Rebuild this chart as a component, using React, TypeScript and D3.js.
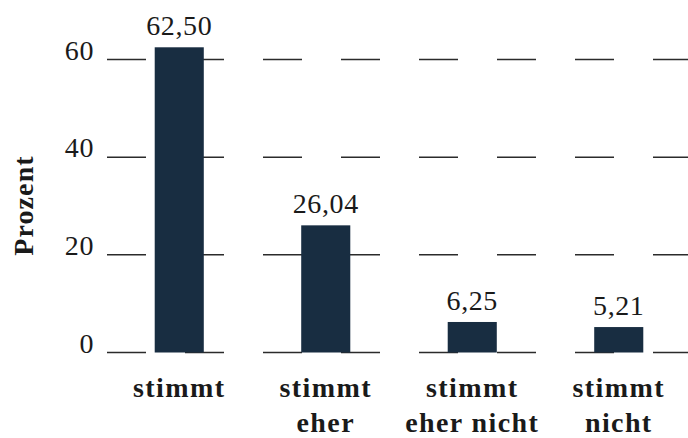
import React from 'react';
import * as d3 from 'd3';

const categories = ['stimmt', 'stimmt eher', 'stimmt eher nicht', 'stimmt nicht'];
const categoryLines = [['stimmt'], ['stimmt', 'eher'], ['stimmt', 'eher nicht'], ['stimmt', 'nicht']];
const values = [62.5, 26.04, 6.25, 5.21];
const yTicks = [0, 20, 40, 60];

const FONT = 'Liberation Serif';
const width = 688;
const height = 438;

const App = () => {
  const xScale = d3
    .scaleBand()
    .domain(categories)
    .range([106, 692])
    .paddingInner(0.665)
    .paddingOuter(0.3325);

  const yScale = d3.scaleLinear().domain([0, 60]).range([352.5, 59.5]);
  const center = (i: number) => (xScale(categories[i]) as number) + xScale.bandwidth() / 2;

  return (
    <svg
      width={width}
      height={height}
      style={{ position: 'absolute', left: 0, top: 0, background: '#fff' }}
    >
      {/* dashed gridlines */}
      {yTicks.map((t) => (
        <line
          key={'g' + t}
          x1={107}
          x2={width}
          y1={yScale(t)}
          y2={yScale(t)}
          stroke="#2b2b2b"
          strokeWidth={1.5}
          strokeDasharray="39,39"
        />
      ))}

      {/* tick labels */}
      {yTicks.map((t) => (
        <text
          key={'t' + t}
          x={94}
          y={yScale(t)}
          textAnchor="end"
          fontFamily={FONT}
          fontSize={28}
          letterSpacing={0.6}
          fill="#1a1a1a"
        >
          {t}
        </text>
      ))}

      {/* bars */}
      {values.map((v, i) => (
        <rect
          key={'b' + i}
          x={xScale(categories[i])}
          width={xScale.bandwidth()}
          y={yScale(v)}
          height={yScale(0) - yScale(v)}
          fill="#182d41"
        />
      ))}

      {/* value labels */}
      {values.map((v, i) => (
        <text
          key={'v' + i}
          x={center(i)}
          y={yScale(v) - 12}
          textAnchor="middle"
          fontFamily={FONT}
          fontSize={28}
          letterSpacing={0.6}
          fill="#1a1a1a"
        >
          {v.toFixed(2).replace('.', ',')}
        </text>
      ))}

      {/* category labels */}
      {categoryLines.map((lines, i) => (
        <text
          key={'c' + i}
          textAnchor="middle"
          fontFamily={FONT}
          fontWeight="bold"
          fontSize={28}
          letterSpacing={1.4}
          fill="#1a1a1a"
        >
          {lines.map((l, j) => (
            <tspan key={j} x={center(i)} y={397 + j * 35}>
              {l}
            </tspan>
          ))}
        </text>
      ))}

      {/* y axis title */}
      <text
        transform="translate(33, 205.5) rotate(-90)"
        textAnchor="middle"
        fontFamily={FONT}
        fontWeight="bold"
        fontSize={28}
        letterSpacing={1.1}
        fill="#1a1a1a"
      >
        Prozent
      </text>
    </svg>
  );
};

export default App;
